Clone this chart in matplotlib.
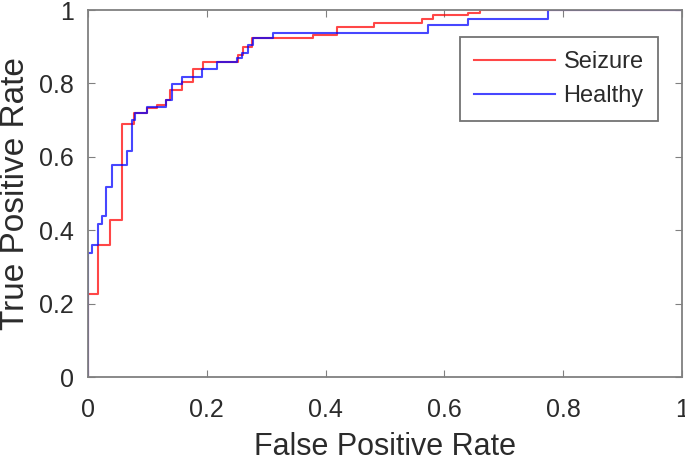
import matplotlib
matplotlib.use("Agg")
import matplotlib.pyplot as plt

# Healthy ROC corners (FPR, TPR)
healthy_fpr = [0, 0, 0.0073, 0.016, 0.023, 0.031, 0.040, 0.065, 0.0746, 0.0786,
               0.100, 0.132, 0.142, 0.159, 0.192, 0.217, 0.250, 0.259, 0.270,
               0.278, 0.312, 0.573, 0.640, 0.774, 1.0]
healthy_tpr = [0, 0.337, 0.360, 0.417, 0.439, 0.517, 0.578, 0.617, 0.700, 0.718,
               0.736, 0.755, 0.798, 0.818, 0.838, 0.859, 0.868, 0.882, 0.905,
               0.923, 0.936, 0.959, 0.975, 1.0, 1.0]

# Seizure ROC corners (FPR, TPR)
seizure_fpr = [0, 0, 0.017, 0.037, 0.058, 0.077, 0.100, 0.116, 0.132, 0.138,
               0.158, 0.177, 0.194, 0.253, 0.261, 0.276, 0.379, 0.420, 0.481,
               0.562, 0.581, 0.640, 0.660, 1.0]
seizure_tpr = [0, 0.225, 0.360, 0.428, 0.689, 0.718, 0.733, 0.741, 0.755, 0.782,
               0.805, 0.838, 0.859, 0.877, 0.900, 0.923, 0.933, 0.954, 0.965,
               0.975, 0.986, 0.992, 1.0, 1.0]

xticks = [0, 0.2, 0.4, 0.6, 0.8, 1]
xticklabels = ["0", "0.2", "0.4", "0.6", "0.8", "1"]
yticks = [0, 0.2, 0.4, 0.6, 0.8, 1]
yticklabels = ["0", "0.2", "0.4", "0.6", "0.8", "1"]

plt.rcParams['font.family'] = ['Liberation Sans', 'DejaVu Sans']
textc = '#2b2b2b'
axc = '#808080'

fig = plt.figure(figsize=(6.85, 4.65), dpi=100)
ax = fig.add_axes([88/685, 1-377/465, 594/685, 367/465])

ax.plot(seizure_fpr, seizure_tpr, drawstyle='steps-post', color='#ff0000',
        lw=1.5, alpha=0.72, label='Seizure')
ax.plot(healthy_fpr, healthy_tpr, drawstyle='steps-post', color='#0000ff',
        lw=1.5, alpha=0.72, label='Healthy')

ax.set_xlim(0, 1)
ax.set_ylim(0, 1)
ax.set_xticks(xticks)
ax.set_xticklabels(xticklabels)
ax.set_yticks(yticks)
ax.set_yticklabels(yticklabels)
ax.tick_params(direction='in', length=5, width=0.8, colors=axc, labelcolor=textc,
               labelsize=18, top=True, right=True)
ax.tick_params(axis='x', pad=15)
ax.tick_params(axis='y', pad=10)
for s in ax.spines.values():
    s.set_color(axc)
    s.set_linewidth(1.3)

ax.set_xlabel('False Positive Rate', fontsize=22, color=textc, labelpad=7)
ax.set_ylabel('True Positive Rate', fontsize=24, color=textc, labelpad=6)

leg = ax.legend(loc='upper right', bbox_to_anchor=(658/685, 1-37/465),
                bbox_transform=fig.transFigure, fontsize=17, frameon=True,
                fancybox=False, edgecolor='#505050', handlelength=3.45,
                handletextpad=0.35, borderpad=0.6, labelspacing=0.5,
                borderaxespad=0)
leg.get_frame().set_linewidth(1.3)
for t in leg.get_texts():
    t.set_color(textc)

fig.savefig('out.png', dpi=100)
